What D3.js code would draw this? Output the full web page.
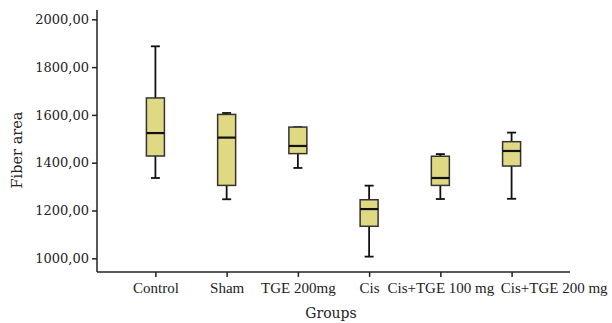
<!DOCTYPE html>
<html>
<head>
<meta charset="utf-8">
<script src="https://cdn.jsdelivr.net/npm/d3@7"></script>
<style>
body { margin: 0; background: #fff; }
text { font-family: "DejaVu Serif", serif; fill: #222; }
</style>
</head>
<body>
<script>
// box plot data
var groups = ["Control", "Sham", "TGE 200mg", "Cis", "Cis+TGE 100 mg", "Cis+TGE 200 mg"];
var mins    = [1336, 1247, 1378, 1007, 1248, 1249];
var q1s     = [1428, 1305, 1438, 1134, 1305, 1386];
var medians = [1524, 1505, 1470, 1206, 1336, 1449];
var q3s     = [1671, 1602, 1549, 1245, 1427, 1488];
var maxs    = [1887, 1608, 1549, 1304, 1436, 1526];
var yTicks  = [1000, 1200, 1400, 1600, 1800, 2000];

var W = 612, H = 323;
var svg = d3.select("body").append("svg")
    .attr("width", W)
    .attr("height", H);

var x = d3.scalePoint()
    .domain(groups)
    .range([97, 570])
    .padding(0.82);

var y = d3.scaleLinear()
    .domain([1000, 2000])
    .range([258.3, 19.3]);

var fmt = function(d){ return d + ",00"; };

//y axis
var yAxis = svg.append("g")
    .attr("transform", "translate(97,0)")
    .call(d3.axisLeft(y).tickValues(yTicks).tickFormat(fmt).tickSize(5).tickSizeOuter(0));
yAxis.select(".domain").attr("d", "M0," + y(2039) + "V" + y(943)).attr("stroke", "#222").attr("stroke-width", 1.5);
yAxis.selectAll(".tick line").attr("stroke", "#222").attr("stroke-width", 1.5);
yAxis.selectAll(".tick text").attr("x", -8)
    .style("font-family", "'DejaVu Serif', serif").style("font-size", "13px").attr("fill", "#222");

//x axis
var xAxis = svg.append("g")
    .attr("transform", "translate(0," + y(943) + ")")
    .call(d3.axisBottom(x).tickSize(5).tickSizeOuter(0));
xAxis.select(".domain").attr("d", "M97,0H570").attr("stroke", "#222").attr("stroke-width", 1.5);
xAxis.selectAll(".tick line").attr("stroke", "#222").attr("stroke-width", 1.5);
xAxis.selectAll(".tick text").attr("y", 10)
    .style("font-family", "'Liberation Serif', serif").style("font-size", "15px").attr("fill", "#222");

// push labels right when they would run into the previous one
var lastRight = -Infinity;
xAxis.selectAll(".tick").each(function(d){
    var t = d3.select(this).select("text");
    var bb = t.node().getBBox();
    var left = x(d) + bb.x;
    if (left < lastRight + 6) {
        var shift = lastRight + 6 - left;
        t.attr("dx", shift);
        left += shift;
    }
    lastRight = left + bb.width;
});

// axis titles
svg.append("text")
    .attr("x", 331).attr("y", 318)
    .attr("text-anchor", "middle")
    .style("font-size", "14px")
    .text("Groups");
svg.append("text")
    .attr("transform", "translate(21.5,150) rotate(-90)")
    .attr("text-anchor", "middle")
    .style("font-size", "14.5px")
    .text("Fiber area");

// boxes
var boxW = 18, capW = 9;
var g = svg.append("g").selectAll("g")
    .data(groups)
    .enter()
    .append("g");

// whiskers
g.append("line")
    .attr("x1", function(d){ return x(d); })
    .attr("x2", function(d){ return x(d); })
    .attr("y1", function(d, i){ return y(maxs[i]); })
    .attr("y2", function(d, i){ return y(mins[i]); })
    .attr("stroke", "#111").attr("stroke-width", 1.8);
g.append("line")
    .attr("x1", function(d){ return x(d) - capW / 2; })
    .attr("x2", function(d){ return x(d) + capW / 2; })
    .attr("y1", function(d, i){ return y(maxs[i]); })
    .attr("y2", function(d, i){ return y(maxs[i]); })
    .attr("stroke", "#111").attr("stroke-width", 1.8);
g.append("line")
    .attr("x1", function(d){ return x(d) - capW / 2; })
    .attr("x2", function(d){ return x(d) + capW / 2; })
    .attr("y1", function(d, i){ return y(mins[i]); })
    .attr("y2", function(d, i){ return y(mins[i]); })
    .attr("stroke", "#111").attr("stroke-width", 1.8);

g.append("rect")
    .attr("x", function(d){ return x(d) - boxW / 2; })
    .attr("width", boxW)
    .attr("y", function(d, i){ return y(q3s[i]); })
    .attr("height", function(d, i){ return y(q1s[i]) - y(q3s[i]); })
    .attr("fill", "#e0d984")
    .attr("stroke", "#333").attr("stroke-width", 1.5);

// median
g.append("line")
    .attr("x1", function(d){ return x(d) - boxW / 2; })
    .attr("x2", function(d){ return x(d) + boxW / 2; })
    .attr("y1", function(d, i){ return y(medians[i]); })
    .attr("y2", function(d, i){ return y(medians[i]); })
    .attr("stroke", "#111").attr("stroke-width", 2.2);
</script>
</body>
</html>
